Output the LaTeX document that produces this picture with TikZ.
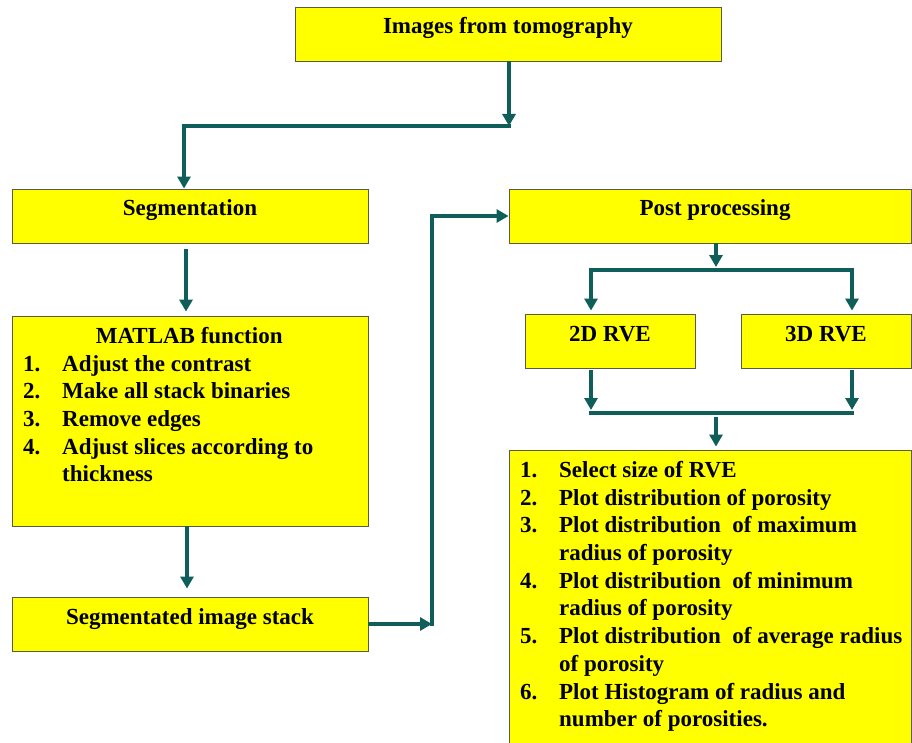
\documentclass[tikz,border=0pt]{standalone}
\usepackage{fontspec}
\setmainfont{Liberation Serif}
\usetikzlibrary{arrows.meta}
\definecolor{boxyellow}{RGB}{255,255,0}
\definecolor{boxedge}{RGB}{90,90,70}
\definecolor{flow}{RGB}{16,94,90}
\begin{document}
\begin{tikzpicture}[x=1pt,y=-1pt,
  box/.style={draw=boxedge, line width=0.9pt, fill=boxyellow, inner sep=0pt,
    font=\fontsize{23}{27.7}\selectfont\bfseries, text height=15pt, text depth=15pt},
  arr/.style={draw=flow, line width=4pt, line join=miter, -{Triangle[length=12pt,width=13pt]}},
  ln/.style={draw=flow, line width=4pt, line cap=rect},
  lst/.style={anchor=north west, inner sep=0pt, align=left,
    font=\fontsize{23}{27.7}\selectfont\bfseries}]
\useasboundingbox (0,0) rectangle (912,743);
\fill[white] (0,0) rectangle (912,743);

% boxes
\node[box, minimum width=426pt, minimum height=54pt] (top) at (508,34) {Images from tomography};
\node[box, minimum width=356pt, minimum height=54pt] (seg) at (190,216) {Segmentation};
\node[box, minimum width=356pt, minimum height=210pt] (matlab) at (190,421) {};
\node[box, minimum width=356pt, minimum height=54pt] (stack) at (190,624) {Segmentated image stack};
\node[box, minimum width=402pt, minimum height=54pt] (post) at (710,216) {\hspace*{10pt}Post processing};
\node[box, minimum width=170pt, minimum height=54pt] (rve2) at (610,341) {2D RVE};
\node[box, minimum width=170pt, minimum height=54pt] (rve3) at (826,341) {3D RVE};
\node[box, minimum width=402pt, minimum height=300pt] (res) at (710,600) {};

% list texts
\node[lst] (matlabtxt) at (23,327) {%
\makebox[332pt][c]{MATLAB function}\\
\makebox[39pt][l]{1.}Adjust the contrast\\
\makebox[39pt][l]{2.}Make all stack binaries\\
\makebox[39pt][l]{3.}Remove edges\\
\makebox[39pt][l]{4.}Adjust slices according to\\
\hspace*{39pt}thickness};
\node[lst] (restxt) at (520,461) {%
\makebox[39pt][l]{1.}Select size of RVE\\
\makebox[39pt][l]{2.}Plot distribution of porosity\\
\makebox[39pt][l]{3.}Plot distribution~ of maximum\\
\hspace*{39pt}radius of porosity\\
\makebox[39pt][l]{4.}Plot distribution~ of minimum\\
\hspace*{39pt}radius of porosity\\
\makebox[39pt][l]{5.}Plot distribution~ of average radius\\
\hspace*{39pt}of porosity\\
\makebox[39pt][l]{6.}Plot Histogram of radius and\\
\hspace*{39pt}number of porosities.};

% helper coordinates
\coordinate (c1) at (509,126);
\coordinate (xs) at (184,0);
\coordinate (xm) at (186,0);
\coordinate (xk) at (187,0);
\coordinate (c3) at (432,624);
\coordinate (b1) at (716,270);
\coordinate (x2) at (591,0);
\coordinate (x3) at (852,0);
\coordinate (b2) at (716,413);

% connectors
\draw[arr] (top.south -| c1) -- (c1);
\draw[arr, line cap=rect] (c1) -| (seg.north -| xs);
\draw[arr, shorten <=6pt, shorten >=4pt] (seg.south -| xm) -- (matlab.north -| xm);
\draw[arr, shorten >=8pt] (matlab.south -| xk) -- (stack.north -| xk);
\draw[arr] (stack.east) -- (c3);
\draw[arr, line cap=rect] (c3) |- (post.west);
\draw[arr, shorten >=3pt] (post.south -| b1) -- (b1);
\draw[arr, line cap=rect, shorten >=3pt] (b1) -| (rve2.north -| x2);
\draw[arr, line cap=rect, shorten >=3pt] (b1) -| (rve3.north -| x3);
\draw[arr, shorten <=2pt, shorten >=3pt] (rve2.south -| x2) -- (b2 -| x2);
\draw[arr, shorten <=2pt, shorten >=3pt] (rve3.south -| x3) -- (b2 -| x3);
\draw[ln] (b2 -| x2) -- (b2 -| x3);
\draw[arr, shorten <=4pt, shorten >=3pt] (b2) -- (res.north -| b2);
\end{tikzpicture}
\end{document}
